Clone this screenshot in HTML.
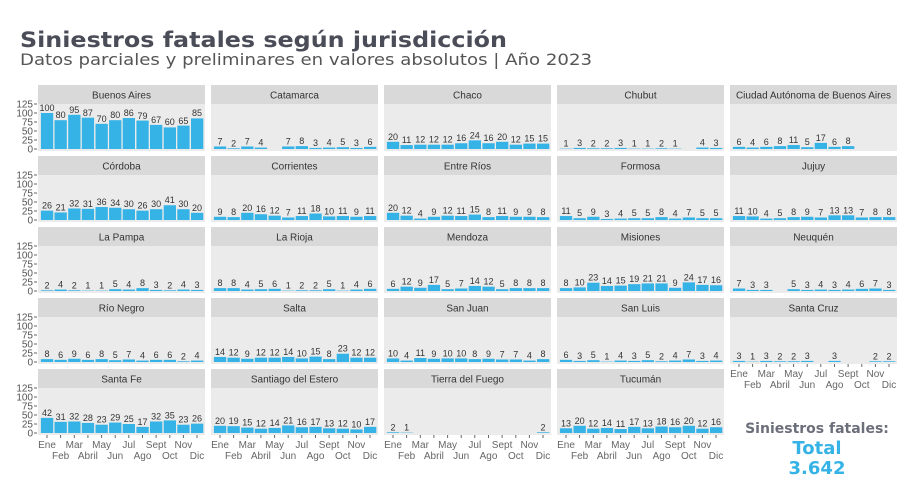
<!DOCTYPE html>
<html><head><meta charset="utf-8"><style>
body{margin:0;background:#fff;width:908px;height:497px;overflow:hidden}
svg{display:block}
.s{fill:#d9d9d9}.p{fill:#ebebeb}
.st{font:10px "Liberation Sans",sans-serif;fill:#333;text-anchor:middle}
.b rect{fill:#35b3e6}
.l text{font:9px "Liberation Sans",sans-serif;fill:#333;text-anchor:middle}
.ax{font:10px "Liberation Sans",sans-serif;fill:#555;text-anchor:end}
.xl text{font:10px "Liberation Sans",sans-serif;fill:#666;text-anchor:middle}
</style></head><body>
<svg width="908" height="497" viewBox="0 0 908 497" xmlns="http://www.w3.org/2000/svg">
<defs>
<g id="yax">
<g stroke="#666" stroke-width="1"><line x1="-4" x2="-1" y1="64" y2="64"/><line x1="-4" x2="-1" y1="55" y2="55"/><line x1="-4" x2="-1" y1="46" y2="46"/><line x1="-4" x2="-1" y1="37" y2="37"/><line x1="-4" x2="-1" y1="28" y2="28"/><line x1="-4" x2="-1" y1="19" y2="19"/></g>
<text class="ax" x="-5" y="67.5">0</text><text class="ax" x="-5" y="58.5">25</text><text class="ax" x="-5" y="49.5">50</text><text class="ax" x="-5" y="40.5">75</text><text class="ax" x="-5" y="31.5">100</text><text class="ax" x="-5" y="22.5">125</text>
</g>
<g id="xtk" stroke="#666"><line x1="9" x2="9" y1="66" y2="69"/><line x1="22.6" x2="22.6" y1="66" y2="69"/><line x1="36.3" x2="36.3" y1="66" y2="69"/><line x1="49.9" x2="49.9" y1="66" y2="69"/><line x1="63.6" x2="63.6" y1="66" y2="69"/><line x1="77.2" x2="77.2" y1="66" y2="69"/><line x1="90.8" x2="90.8" y1="66" y2="69"/><line x1="104.5" x2="104.5" y1="66" y2="69"/><line x1="118.1" x2="118.1" y1="66" y2="69"/><line x1="131.8" x2="131.8" y1="66" y2="69"/><line x1="145.4" x2="145.4" y1="66" y2="69"/><line x1="159" x2="159" y1="66" y2="69"/></g>
</defs>
<text x="20" y="47" font-family="DejaVu Sans, sans-serif" font-weight="bold" font-size="21" fill="#4a4d57" textLength="487" lengthAdjust="spacingAndGlyphs">Siniestros fatales según jurisdicción</text>
<text x="20" y="65" font-family="DejaVu Sans, sans-serif" font-size="16" fill="#555" textLength="572" lengthAdjust="spacingAndGlyphs">Datos parciales y preliminares en valores absolutos | Año 2023</text>

<!-- Row 1 -->
<g transform="translate(38,85)"><use href="#yax"/><rect class="s" width="167" height="19"/><rect class="p" y="19" width="167" height="47"/><text class="st" x="83.5" y="13.5">Buenos Aires</text>
<g class="b" transform="translate(0,64) scale(1,-0.36)"><rect x="2.9" width="12.3" height="100"/><rect x="16.5" width="12.3" height="80"/><rect x="30.2" width="12.3" height="95"/><rect x="43.8" width="12.3" height="87"/><rect x="57.5" width="12.3" height="70"/><rect x="71.1" width="12.3" height="80"/><rect x="84.7" width="12.3" height="86"/><rect x="98.4" width="12.3" height="79"/><rect x="112" width="12.3" height="67"/><rect x="125.7" width="12.3" height="60"/><rect x="139.3" width="12.3" height="65"/><rect x="153" width="12.3" height="85"/></g>
<g class="l"><text x="9" y="26">100</text><text x="22.6" y="33">80</text><text x="36.3" y="28">95</text><text x="49.9" y="31">87</text><text x="63.6" y="37">70</text><text x="77.2" y="33">80</text><text x="90.8" y="31">86</text><text x="104.5" y="34">79</text><text x="118.1" y="38">67</text><text x="131.8" y="40">60</text><text x="145.4" y="39">65</text><text x="159" y="31">85</text></g></g>

<g transform="translate(211,85)"><rect class="s" width="167" height="19"/><rect class="p" y="19" width="167" height="47"/><text class="st" x="83.5" y="13.5">Catamarca</text>
<g class="b" transform="translate(0,64) scale(1,-0.36)"><rect x="2.9" width="12.3" height="7"/><rect x="16.5" width="12.3" height="2"/><rect x="30.2" width="12.3" height="7"/><rect x="43.8" width="12.3" height="4"/><rect x="71.1" width="12.3" height="7"/><rect x="84.7" width="12.3" height="8"/><rect x="98.4" width="12.3" height="3"/><rect x="112" width="12.3" height="4"/><rect x="125.7" width="12.3" height="5"/><rect x="139.3" width="12.3" height="3"/><rect x="153" width="12.3" height="6"/></g>
<g class="l"><text x="9" y="59.5">7</text><text x="22.6" y="61.3">2</text><text x="36.3" y="59.5">7</text><text x="49.9" y="60.6">4</text><text x="77.2" y="59.5">7</text><text x="90.8" y="59.1">8</text><text x="104.5" y="60.9">3</text><text x="118.1" y="60.6">4</text><text x="131.8" y="60.2">5</text><text x="145.4" y="60.9">3</text><text x="159" y="59.8">6</text></g></g>

<g transform="translate(384,85)"><rect class="s" width="167" height="19"/><rect class="p" y="19" width="167" height="47"/><text class="st" x="83.5" y="13.5">Chaco</text>
<g class="b" transform="translate(0,64) scale(1,-0.36)"><rect x="2.9" width="12.3" height="20"/><rect x="16.5" width="12.3" height="11"/><rect x="30.2" width="12.3" height="12"/><rect x="43.8" width="12.3" height="12"/><rect x="57.5" width="12.3" height="12"/><rect x="71.1" width="12.3" height="16"/><rect x="84.7" width="12.3" height="24"/><rect x="98.4" width="12.3" height="16"/><rect x="112" width="12.3" height="20"/><rect x="125.7" width="12.3" height="12"/><rect x="139.3" width="12.3" height="15"/><rect x="153" width="12.3" height="15"/></g>
<g class="l"><text x="9" y="54.8">20</text><text x="22.6" y="58">11</text><text x="36.3" y="57.7">12</text><text x="49.9" y="57.7">12</text><text x="63.6" y="57.7">12</text><text x="77.2" y="56.2">16</text><text x="90.8" y="53.4">24</text><text x="104.5" y="56.2">16</text><text x="118.1" y="54.8">20</text><text x="131.8" y="57.7">12</text><text x="145.4" y="56.6">15</text><text x="159" y="56.6">15</text></g></g>

<g transform="translate(557,85)"><rect class="s" width="167" height="19"/><rect class="p" y="19" width="167" height="47"/><text class="st" x="83.5" y="13.5">Chubut</text>
<g class="b" transform="translate(0,64) scale(1,-0.36)"><rect x="2.9" width="12.3" height="1"/><rect x="16.5" width="12.3" height="3"/><rect x="30.2" width="12.3" height="2"/><rect x="43.8" width="12.3" height="2"/><rect x="57.5" width="12.3" height="3"/><rect x="71.1" width="12.3" height="1"/><rect x="84.7" width="12.3" height="1"/><rect x="98.4" width="12.3" height="2"/><rect x="112" width="12.3" height="1"/><rect x="139.3" width="12.3" height="4"/><rect x="153" width="12.3" height="3"/></g>
<g class="l"><text x="9" y="61.6">1</text><text x="22.6" y="60.9">3</text><text x="36.3" y="61.3">2</text><text x="49.9" y="61.3">2</text><text x="63.6" y="60.9">3</text><text x="77.2" y="61.6">1</text><text x="90.8" y="61.6">1</text><text x="104.5" y="61.3">2</text><text x="118.1" y="61.6">1</text><text x="145.4" y="60.6">4</text><text x="159" y="60.9">3</text></g></g>

<g transform="translate(730,85)"><rect class="s" width="167" height="19"/><rect class="p" y="19" width="167" height="47"/><text class="st" x="83.5" y="13.5">Ciudad Autónoma de Buenos Aires</text>
<g class="b" transform="translate(0,64) scale(1,-0.36)"><rect x="2.9" width="12.3" height="6"/><rect x="16.5" width="12.3" height="4"/><rect x="30.2" width="12.3" height="6"/><rect x="43.8" width="12.3" height="8"/><rect x="57.5" width="12.3" height="11"/><rect x="71.1" width="12.3" height="5"/><rect x="84.7" width="12.3" height="17"/><rect x="98.4" width="12.3" height="6"/><rect x="112" width="12.3" height="8"/></g>
<g class="l"><text x="9" y="59.8">6</text><text x="22.6" y="60.6">4</text><text x="36.3" y="59.8">6</text><text x="49.9" y="59.1">8</text><text x="63.6" y="58">11</text><text x="77.2" y="60.2">5</text><text x="90.8" y="55.9">17</text><text x="104.5" y="59.8">6</text><text x="118.1" y="59.1">8</text></g></g>

<!-- Row 2 -->
<g transform="translate(38,156)"><use href="#yax"/><rect class="s" width="167" height="19"/><rect class="p" y="19" width="167" height="47"/><text class="st" x="83.5" y="13.5">Córdoba</text>
<g class="b" transform="translate(0,64) scale(1,-0.36)"><rect x="2.9" width="12.3" height="26"/><rect x="16.5" width="12.3" height="21"/><rect x="30.2" width="12.3" height="32"/><rect x="43.8" width="12.3" height="31"/><rect x="57.5" width="12.3" height="36"/><rect x="71.1" width="12.3" height="34"/><rect x="84.7" width="12.3" height="30"/><rect x="98.4" width="12.3" height="26"/><rect x="112" width="12.3" height="30"/><rect x="125.7" width="12.3" height="41"/><rect x="139.3" width="12.3" height="30"/><rect x="153" width="12.3" height="20"/></g>
<g class="l"><text x="9" y="52.6">26</text><text x="22.6" y="54.4">21</text><text x="36.3" y="50.5">32</text><text x="49.9" y="50.8">31</text><text x="63.6" y="49">36</text><text x="77.2" y="49.8">34</text><text x="90.8" y="51.2">30</text><text x="104.5" y="52.6">26</text><text x="118.1" y="51.2">30</text><text x="131.8" y="47.2">41</text><text x="145.4" y="51.2">30</text><text x="159" y="54.8">20</text></g></g>

<g transform="translate(211,156)"><rect class="s" width="167" height="19"/><rect class="p" y="19" width="167" height="47"/><text class="st" x="83.5" y="13.5">Corrientes</text>
<g class="b" transform="translate(0,64) scale(1,-0.36)"><rect x="2.9" width="12.3" height="9"/><rect x="16.5" width="12.3" height="8"/><rect x="30.2" width="12.3" height="20"/><rect x="43.8" width="12.3" height="16"/><rect x="57.5" width="12.3" height="12"/><rect x="71.1" width="12.3" height="7"/><rect x="84.7" width="12.3" height="11"/><rect x="98.4" width="12.3" height="18"/><rect x="112" width="12.3" height="10"/><rect x="125.7" width="12.3" height="11"/><rect x="139.3" width="12.3" height="9"/><rect x="153" width="12.3" height="11"/></g>
<g class="l"><text x="9" y="58.8">9</text><text x="22.6" y="59.1">8</text><text x="36.3" y="54.8">20</text><text x="49.9" y="56.2">16</text><text x="63.6" y="57.7">12</text><text x="77.2" y="59.5">7</text><text x="90.8" y="58">11</text><text x="104.5" y="55.5">18</text><text x="118.1" y="58.4">10</text><text x="131.8" y="58">11</text><text x="145.4" y="58.8">9</text><text x="159" y="58">11</text></g></g>

<g transform="translate(384,156)"><rect class="s" width="167" height="19"/><rect class="p" y="19" width="167" height="47"/><text class="st" x="83.5" y="13.5">Entre Ríos</text>
<g class="b" transform="translate(0,64) scale(1,-0.36)"><rect x="2.9" width="12.3" height="20"/><rect x="16.5" width="12.3" height="12"/><rect x="30.2" width="12.3" height="4"/><rect x="43.8" width="12.3" height="9"/><rect x="57.5" width="12.3" height="12"/><rect x="71.1" width="12.3" height="11"/><rect x="84.7" width="12.3" height="15"/><rect x="98.4" width="12.3" height="8"/><rect x="112" width="12.3" height="11"/><rect x="125.7" width="12.3" height="9"/><rect x="139.3" width="12.3" height="9"/><rect x="153" width="12.3" height="8"/></g>
<g class="l"><text x="9" y="54.8">20</text><text x="22.6" y="57.7">12</text><text x="36.3" y="60.6">4</text><text x="49.9" y="58.8">9</text><text x="63.6" y="57.7">12</text><text x="77.2" y="58">11</text><text x="90.8" y="56.6">15</text><text x="104.5" y="59.1">8</text><text x="118.1" y="58">11</text><text x="131.8" y="58.8">9</text><text x="145.4" y="58.8">9</text><text x="159" y="59.1">8</text></g></g>

<g transform="translate(557,156)"><rect class="s" width="167" height="19"/><rect class="p" y="19" width="167" height="47"/><text class="st" x="83.5" y="13.5">Formosa</text>
<g class="b" transform="translate(0,64) scale(1,-0.36)"><rect x="2.9" width="12.3" height="11"/><rect x="16.5" width="12.3" height="5"/><rect x="30.2" width="12.3" height="9"/><rect x="43.8" width="12.3" height="3"/><rect x="57.5" width="12.3" height="4"/><rect x="71.1" width="12.3" height="5"/><rect x="84.7" width="12.3" height="5"/><rect x="98.4" width="12.3" height="8"/><rect x="112" width="12.3" height="4"/><rect x="125.7" width="12.3" height="7"/><rect x="139.3" width="12.3" height="5"/><rect x="153" width="12.3" height="5"/></g>
<g class="l"><text x="9" y="58">11</text><text x="22.6" y="60.2">5</text><text x="36.3" y="58.8">9</text><text x="49.9" y="60.9">3</text><text x="63.6" y="60.6">4</text><text x="77.2" y="60.2">5</text><text x="90.8" y="60.2">5</text><text x="104.5" y="59.1">8</text><text x="118.1" y="60.6">4</text><text x="131.8" y="59.5">7</text><text x="145.4" y="60.2">5</text><text x="159" y="60.2">5</text></g></g>

<g transform="translate(730,156)"><rect class="s" width="167" height="19"/><rect class="p" y="19" width="167" height="47"/><text class="st" x="83.5" y="13.5">Jujuy</text>
<g class="b" transform="translate(0,64) scale(1,-0.36)"><rect x="2.9" width="12.3" height="11"/><rect x="16.5" width="12.3" height="10"/><rect x="30.2" width="12.3" height="4"/><rect x="43.8" width="12.3" height="5"/><rect x="57.5" width="12.3" height="8"/><rect x="71.1" width="12.3" height="9"/><rect x="84.7" width="12.3" height="7"/><rect x="98.4" width="12.3" height="13"/><rect x="112" width="12.3" height="13"/><rect x="125.7" width="12.3" height="7"/><rect x="139.3" width="12.3" height="8"/><rect x="153" width="12.3" height="8"/></g>
<g class="l"><text x="9" y="58">11</text><text x="22.6" y="58.4">10</text><text x="36.3" y="60.6">4</text><text x="49.9" y="60.2">5</text><text x="63.6" y="59.1">8</text><text x="77.2" y="58.8">9</text><text x="90.8" y="59.5">7</text><text x="104.5" y="57.3">13</text><text x="118.1" y="57.3">13</text><text x="131.8" y="59.5">7</text><text x="145.4" y="59.1">8</text><text x="159" y="59.1">8</text></g></g>

<!-- Row 3 -->
<g transform="translate(38,227)"><use href="#yax"/><rect class="s" width="167" height="19"/><rect class="p" y="19" width="167" height="47"/><text class="st" x="83.5" y="13.5">La Pampa</text>
<g class="b" transform="translate(0,64) scale(1,-0.36)"><rect x="2.9" width="12.3" height="2"/><rect x="16.5" width="12.3" height="4"/><rect x="30.2" width="12.3" height="2"/><rect x="43.8" width="12.3" height="1"/><rect x="57.5" width="12.3" height="1"/><rect x="71.1" width="12.3" height="5"/><rect x="84.7" width="12.3" height="4"/><rect x="98.4" width="12.3" height="8"/><rect x="112" width="12.3" height="3"/><rect x="125.7" width="12.3" height="2"/><rect x="139.3" width="12.3" height="4"/><rect x="153" width="12.3" height="3"/></g>
<g class="l"><text x="9" y="61.3">2</text><text x="22.6" y="60.6">4</text><text x="36.3" y="61.3">2</text><text x="49.9" y="61.6">1</text><text x="63.6" y="61.6">1</text><text x="77.2" y="60.2">5</text><text x="90.8" y="60.6">4</text><text x="104.5" y="59.1">8</text><text x="118.1" y="60.9">3</text><text x="131.8" y="61.3">2</text><text x="145.4" y="60.6">4</text><text x="159" y="60.9">3</text></g></g>

<g transform="translate(211,227)"><rect class="s" width="167" height="19"/><rect class="p" y="19" width="167" height="47"/><text class="st" x="83.5" y="13.5">La Rioja</text>
<g class="b" transform="translate(0,64) scale(1,-0.36)"><rect x="2.9" width="12.3" height="8"/><rect x="16.5" width="12.3" height="8"/><rect x="30.2" width="12.3" height="4"/><rect x="43.8" width="12.3" height="5"/><rect x="57.5" width="12.3" height="6"/><rect x="71.1" width="12.3" height="1"/><rect x="84.7" width="12.3" height="2"/><rect x="98.4" width="12.3" height="2"/><rect x="112" width="12.3" height="5"/><rect x="125.7" width="12.3" height="1"/><rect x="139.3" width="12.3" height="4"/><rect x="153" width="12.3" height="6"/></g>
<g class="l"><text x="9" y="59.1">8</text><text x="22.6" y="59.1">8</text><text x="36.3" y="60.6">4</text><text x="49.9" y="60.2">5</text><text x="63.6" y="59.8">6</text><text x="77.2" y="61.6">1</text><text x="90.8" y="61.3">2</text><text x="104.5" y="61.3">2</text><text x="118.1" y="60.2">5</text><text x="131.8" y="61.6">1</text><text x="145.4" y="60.6">4</text><text x="159" y="59.8">6</text></g></g>

<g transform="translate(384,227)"><rect class="s" width="167" height="19"/><rect class="p" y="19" width="167" height="47"/><text class="st" x="83.5" y="13.5">Mendoza</text>
<g class="b" transform="translate(0,64) scale(1,-0.36)"><rect x="2.9" width="12.3" height="6"/><rect x="16.5" width="12.3" height="12"/><rect x="30.2" width="12.3" height="9"/><rect x="43.8" width="12.3" height="17"/><rect x="57.5" width="12.3" height="5"/><rect x="71.1" width="12.3" height="7"/><rect x="84.7" width="12.3" height="14"/><rect x="98.4" width="12.3" height="12"/><rect x="112" width="12.3" height="5"/><rect x="125.7" width="12.3" height="8"/><rect x="139.3" width="12.3" height="8"/><rect x="153" width="12.3" height="8"/></g>
<g class="l"><text x="9" y="59.8">6</text><text x="22.6" y="57.7">12</text><text x="36.3" y="58.8">9</text><text x="49.9" y="55.9">17</text><text x="63.6" y="60.2">5</text><text x="77.2" y="59.5">7</text><text x="90.8" y="57">14</text><text x="104.5" y="57.7">12</text><text x="118.1" y="60.2">5</text><text x="131.8" y="59.1">8</text><text x="145.4" y="59.1">8</text><text x="159" y="59.1">8</text></g></g>

<g transform="translate(557,227)"><rect class="s" width="167" height="19"/><rect class="p" y="19" width="167" height="47"/><text class="st" x="83.5" y="13.5">Misiones</text>
<g class="b" transform="translate(0,64) scale(1,-0.36)"><rect x="2.9" width="12.3" height="8"/><rect x="16.5" width="12.3" height="10"/><rect x="30.2" width="12.3" height="23"/><rect x="43.8" width="12.3" height="14"/><rect x="57.5" width="12.3" height="15"/><rect x="71.1" width="12.3" height="19"/><rect x="84.7" width="12.3" height="21"/><rect x="98.4" width="12.3" height="21"/><rect x="112" width="12.3" height="9"/><rect x="125.7" width="12.3" height="24"/><rect x="139.3" width="12.3" height="17"/><rect x="153" width="12.3" height="16"/></g>
<g class="l"><text x="9" y="59.1">8</text><text x="22.6" y="58.4">10</text><text x="36.3" y="53.7">23</text><text x="49.9" y="57">14</text><text x="63.6" y="56.6">15</text><text x="77.2" y="55.2">19</text><text x="90.8" y="54.4">21</text><text x="104.5" y="54.4">21</text><text x="118.1" y="58.8">9</text><text x="131.8" y="53.4">24</text><text x="145.4" y="55.9">17</text><text x="159" y="56.2">16</text></g></g>

<g transform="translate(730,227)"><rect class="s" width="167" height="19"/><rect class="p" y="19" width="167" height="47"/><text class="st" x="83.5" y="13.5">Neuquén</text>
<g class="b" transform="translate(0,64) scale(1,-0.36)"><rect x="2.9" width="12.3" height="7"/><rect x="16.5" width="12.3" height="3"/><rect x="30.2" width="12.3" height="3"/><rect x="57.5" width="12.3" height="5"/><rect x="71.1" width="12.3" height="3"/><rect x="84.7" width="12.3" height="4"/><rect x="98.4" width="12.3" height="3"/><rect x="112" width="12.3" height="4"/><rect x="125.7" width="12.3" height="6"/><rect x="139.3" width="12.3" height="7"/><rect x="153" width="12.3" height="3"/></g>
<g class="l"><text x="9" y="59.5">7</text><text x="22.6" y="60.9">3</text><text x="36.3" y="60.9">3</text><text x="63.6" y="60.2">5</text><text x="77.2" y="60.9">3</text><text x="90.8" y="60.6">4</text><text x="104.5" y="60.9">3</text><text x="118.1" y="60.6">4</text><text x="131.8" y="59.8">6</text><text x="145.4" y="59.5">7</text><text x="159" y="60.9">3</text></g></g>

<!-- Row 4 -->
<g transform="translate(38,298)"><use href="#yax"/><rect class="s" width="167" height="19"/><rect class="p" y="19" width="167" height="47"/><text class="st" x="83.5" y="13.5">Río Negro</text>
<g class="b" transform="translate(0,64) scale(1,-0.36)"><rect x="2.9" width="12.3" height="8"/><rect x="16.5" width="12.3" height="6"/><rect x="30.2" width="12.3" height="9"/><rect x="43.8" width="12.3" height="6"/><rect x="57.5" width="12.3" height="8"/><rect x="71.1" width="12.3" height="5"/><rect x="84.7" width="12.3" height="7"/><rect x="98.4" width="12.3" height="4"/><rect x="112" width="12.3" height="6"/><rect x="125.7" width="12.3" height="6"/><rect x="139.3" width="12.3" height="2"/><rect x="153" width="12.3" height="4"/></g>
<g class="l"><text x="9" y="59.1">8</text><text x="22.6" y="59.8">6</text><text x="36.3" y="58.8">9</text><text x="49.9" y="59.8">6</text><text x="63.6" y="59.1">8</text><text x="77.2" y="60.2">5</text><text x="90.8" y="59.5">7</text><text x="104.5" y="60.6">4</text><text x="118.1" y="59.8">6</text><text x="131.8" y="59.8">6</text><text x="145.4" y="61.3">2</text><text x="159" y="60.6">4</text></g></g>

<g transform="translate(211,298)"><rect class="s" width="167" height="19"/><rect class="p" y="19" width="167" height="47"/><text class="st" x="83.5" y="13.5">Salta</text>
<g class="b" transform="translate(0,64) scale(1,-0.36)"><rect x="2.9" width="12.3" height="14"/><rect x="16.5" width="12.3" height="12"/><rect x="30.2" width="12.3" height="9"/><rect x="43.8" width="12.3" height="12"/><rect x="57.5" width="12.3" height="12"/><rect x="71.1" width="12.3" height="14"/><rect x="84.7" width="12.3" height="10"/><rect x="98.4" width="12.3" height="15"/><rect x="112" width="12.3" height="8"/><rect x="125.7" width="12.3" height="23"/><rect x="139.3" width="12.3" height="12"/><rect x="153" width="12.3" height="12"/></g>
<g class="l"><text x="9" y="57">14</text><text x="22.6" y="57.7">12</text><text x="36.3" y="58.8">9</text><text x="49.9" y="57.7">12</text><text x="63.6" y="57.7">12</text><text x="77.2" y="57">14</text><text x="90.8" y="58.4">10</text><text x="104.5" y="56.6">15</text><text x="118.1" y="59.1">8</text><text x="131.8" y="53.7">23</text><text x="145.4" y="57.7">12</text><text x="159" y="57.7">12</text></g></g>

<g transform="translate(384,298)"><rect class="s" width="167" height="19"/><rect class="p" y="19" width="167" height="47"/><text class="st" x="83.5" y="13.5">San Juan</text>
<g class="b" transform="translate(0,64) scale(1,-0.36)"><rect x="2.9" width="12.3" height="10"/><rect x="16.5" width="12.3" height="4"/><rect x="30.2" width="12.3" height="11"/><rect x="43.8" width="12.3" height="9"/><rect x="57.5" width="12.3" height="10"/><rect x="71.1" width="12.3" height="10"/><rect x="84.7" width="12.3" height="8"/><rect x="98.4" width="12.3" height="9"/><rect x="112" width="12.3" height="7"/><rect x="125.7" width="12.3" height="7"/><rect x="139.3" width="12.3" height="4"/><rect x="153" width="12.3" height="8"/></g>
<g class="l"><text x="9" y="58.4">10</text><text x="22.6" y="60.6">4</text><text x="36.3" y="58">11</text><text x="49.9" y="58.8">9</text><text x="63.6" y="58.4">10</text><text x="77.2" y="58.4">10</text><text x="90.8" y="59.1">8</text><text x="104.5" y="58.8">9</text><text x="118.1" y="59.5">7</text><text x="131.8" y="59.5">7</text><text x="145.4" y="60.6">4</text><text x="159" y="59.1">8</text></g></g>

<g transform="translate(557,298)"><rect class="s" width="167" height="19"/><rect class="p" y="19" width="167" height="47"/><text class="st" x="83.5" y="13.5">San Luis</text>
<g class="b" transform="translate(0,64) scale(1,-0.36)"><rect x="2.9" width="12.3" height="6"/><rect x="16.5" width="12.3" height="3"/><rect x="30.2" width="12.3" height="5"/><rect x="43.8" width="12.3" height="1"/><rect x="57.5" width="12.3" height="4"/><rect x="71.1" width="12.3" height="3"/><rect x="84.7" width="12.3" height="5"/><rect x="98.4" width="12.3" height="2"/><rect x="112" width="12.3" height="4"/><rect x="125.7" width="12.3" height="7"/><rect x="139.3" width="12.3" height="3"/><rect x="153" width="12.3" height="4"/></g>
<g class="l"><text x="9" y="59.8">6</text><text x="22.6" y="60.9">3</text><text x="36.3" y="60.2">5</text><text x="49.9" y="61.6">1</text><text x="63.6" y="60.6">4</text><text x="77.2" y="60.9">3</text><text x="90.8" y="60.2">5</text><text x="104.5" y="61.3">2</text><text x="118.1" y="60.6">4</text><text x="131.8" y="59.5">7</text><text x="145.4" y="60.9">3</text><text x="159" y="60.6">4</text></g></g>

<g transform="translate(730,298)"><rect class="s" width="167" height="19"/><rect class="p" y="19" width="167" height="47"/><text class="st" x="83.5" y="13.5">Santa Cruz</text>
<g class="b" transform="translate(0,64) scale(1,-0.36)"><rect x="2.9" width="12.3" height="3"/><rect x="16.5" width="12.3" height="1"/><rect x="30.2" width="12.3" height="3"/><rect x="43.8" width="12.3" height="2"/><rect x="57.5" width="12.3" height="2"/><rect x="71.1" width="12.3" height="3"/><rect x="98.4" width="12.3" height="3"/><rect x="139.3" width="12.3" height="2"/><rect x="153" width="12.3" height="2"/></g>
<g class="l"><text x="9" y="60.9">3</text><text x="22.6" y="61.6">1</text><text x="36.3" y="60.9">3</text><text x="49.9" y="61.3">2</text><text x="63.6" y="61.3">2</text><text x="77.2" y="60.9">3</text><text x="104.5" y="60.9">3</text><text x="145.4" y="61.3">2</text><text x="159" y="61.3">2</text></g>
<use href="#xtk"/>
<g class="xl"><text x="9" y="79">Ene</text><text x="36.3" y="79">Mar</text><text x="63.6" y="79">May</text><text x="90.8" y="79">Jul</text><text x="118.1" y="79">Sept</text><text x="145.4" y="79">Nov</text><text x="22.6" y="90">Feb</text><text x="49.9" y="90">Abril</text><text x="77.2" y="90">Jun</text><text x="104.5" y="90">Ago</text><text x="131.8" y="90">Oct</text><text x="159" y="90">Dic</text></g></g>

<!-- Row 5 -->
<g transform="translate(38,369)"><use href="#yax"/><rect class="s" width="167" height="19"/><rect class="p" y="19" width="167" height="47"/><text class="st" x="83.5" y="13.5">Santa Fe</text>
<g class="b" transform="translate(0,64) scale(1,-0.36)"><rect x="2.9" width="12.3" height="42"/><rect x="16.5" width="12.3" height="31"/><rect x="30.2" width="12.3" height="32"/><rect x="43.8" width="12.3" height="28"/><rect x="57.5" width="12.3" height="23"/><rect x="71.1" width="12.3" height="29"/><rect x="84.7" width="12.3" height="25"/><rect x="98.4" width="12.3" height="17"/><rect x="112" width="12.3" height="32"/><rect x="125.7" width="12.3" height="35"/><rect x="139.3" width="12.3" height="23"/><rect x="153" width="12.3" height="26"/></g>
<g class="l"><text x="9" y="46.9">42</text><text x="22.6" y="50.8">31</text><text x="36.3" y="50.5">32</text><text x="49.9" y="51.9">28</text><text x="63.6" y="53.7">23</text><text x="77.2" y="51.6">29</text><text x="90.8" y="53">25</text><text x="104.5" y="55.9">17</text><text x="118.1" y="50.5">32</text><text x="131.8" y="49.4">35</text><text x="145.4" y="53.7">23</text><text x="159" y="52.6">26</text></g>
<use href="#xtk"/>
<g class="xl"><text x="9" y="79">Ene</text><text x="36.3" y="79">Mar</text><text x="63.6" y="79">May</text><text x="90.8" y="79">Jul</text><text x="118.1" y="79">Sept</text><text x="145.4" y="79">Nov</text><text x="22.6" y="90">Feb</text><text x="49.9" y="90">Abril</text><text x="77.2" y="90">Jun</text><text x="104.5" y="90">Ago</text><text x="131.8" y="90">Oct</text><text x="159" y="90">Dic</text></g></g>

<g transform="translate(211,369)"><rect class="s" width="167" height="19"/><rect class="p" y="19" width="167" height="47"/><text class="st" x="83.5" y="13.5">Santiago del Estero</text>
<g class="b" transform="translate(0,64) scale(1,-0.36)"><rect x="2.9" width="12.3" height="20"/><rect x="16.5" width="12.3" height="19"/><rect x="30.2" width="12.3" height="15"/><rect x="43.8" width="12.3" height="12"/><rect x="57.5" width="12.3" height="14"/><rect x="71.1" width="12.3" height="21"/><rect x="84.7" width="12.3" height="16"/><rect x="98.4" width="12.3" height="17"/><rect x="112" width="12.3" height="13"/><rect x="125.7" width="12.3" height="12"/><rect x="139.3" width="12.3" height="10"/><rect x="153" width="12.3" height="17"/></g>
<g class="l"><text x="9" y="54.8">20</text><text x="22.6" y="55.2">19</text><text x="36.3" y="56.6">15</text><text x="49.9" y="57.7">12</text><text x="63.6" y="57">14</text><text x="77.2" y="54.4">21</text><text x="90.8" y="56.2">16</text><text x="104.5" y="55.9">17</text><text x="118.1" y="57.3">13</text><text x="131.8" y="57.7">12</text><text x="145.4" y="58.4">10</text><text x="159" y="55.9">17</text></g>
<use href="#xtk"/>
<g class="xl"><text x="9" y="79">Ene</text><text x="36.3" y="79">Mar</text><text x="63.6" y="79">May</text><text x="90.8" y="79">Jul</text><text x="118.1" y="79">Sept</text><text x="145.4" y="79">Nov</text><text x="22.6" y="90">Feb</text><text x="49.9" y="90">Abril</text><text x="77.2" y="90">Jun</text><text x="104.5" y="90">Ago</text><text x="131.8" y="90">Oct</text><text x="159" y="90">Dic</text></g></g>

<g transform="translate(384,369)"><rect class="s" width="167" height="19"/><rect class="p" y="19" width="167" height="47"/><text class="st" x="83.5" y="13.5">Tierra del Fuego</text>
<g class="b" transform="translate(0,64) scale(1,-0.36)"><rect x="2.9" width="12.3" height="2"/><rect x="16.5" width="12.3" height="1"/><rect x="153" width="12.3" height="2"/></g>
<g class="l"><text x="9" y="61.3">2</text><text x="22.6" y="61.6">1</text><text x="159" y="61.3">2</text></g>
<use href="#xtk"/>
<g class="xl"><text x="9" y="79">Ene</text><text x="36.3" y="79">Mar</text><text x="63.6" y="79">May</text><text x="90.8" y="79">Jul</text><text x="118.1" y="79">Sept</text><text x="145.4" y="79">Nov</text><text x="22.6" y="90">Feb</text><text x="49.9" y="90">Abril</text><text x="77.2" y="90">Jun</text><text x="104.5" y="90">Ago</text><text x="131.8" y="90">Oct</text><text x="159" y="90">Dic</text></g></g>

<g transform="translate(557,369)"><rect class="s" width="167" height="19"/><rect class="p" y="19" width="167" height="47"/><text class="st" x="83.5" y="13.5">Tucumán</text>
<g class="b" transform="translate(0,64) scale(1,-0.36)"><rect x="2.9" width="12.3" height="13"/><rect x="16.5" width="12.3" height="20"/><rect x="30.2" width="12.3" height="12"/><rect x="43.8" width="12.3" height="14"/><rect x="57.5" width="12.3" height="11"/><rect x="71.1" width="12.3" height="17"/><rect x="84.7" width="12.3" height="13"/><rect x="98.4" width="12.3" height="18"/><rect x="112" width="12.3" height="16"/><rect x="125.7" width="12.3" height="20"/><rect x="139.3" width="12.3" height="12"/><rect x="153" width="12.3" height="16"/></g>
<g class="l"><text x="9" y="57.3">13</text><text x="22.6" y="54.8">20</text><text x="36.3" y="57.7">12</text><text x="49.9" y="57">14</text><text x="63.6" y="58">11</text><text x="77.2" y="55.9">17</text><text x="90.8" y="57.3">13</text><text x="104.5" y="55.5">18</text><text x="118.1" y="56.2">16</text><text x="131.8" y="54.8">20</text><text x="145.4" y="57.7">12</text><text x="159" y="56.2">16</text></g>
<use href="#xtk"/>
<g class="xl"><text x="9" y="79">Ene</text><text x="36.3" y="79">Mar</text><text x="63.6" y="79">May</text><text x="90.8" y="79">Jul</text><text x="118.1" y="79">Sept</text><text x="145.4" y="79">Nov</text><text x="22.6" y="90">Feb</text><text x="49.9" y="90">Abril</text><text x="77.2" y="90">Jun</text><text x="104.5" y="90">Ago</text><text x="131.8" y="90">Oct</text><text x="159" y="90">Dic</text></g></g>

<text x="817" y="433" text-anchor="middle" font-family="DejaVu Sans, sans-serif" font-weight="bold" font-size="14" fill="#6b6f7a">Siniestros fatales:</text>
<text x="817" y="454" text-anchor="middle" font-family="DejaVu Sans, sans-serif" font-weight="bold" font-size="18" fill="#35b3e6">Total</text>
<text x="817" y="474" text-anchor="middle" font-family="DejaVu Sans, sans-serif" font-weight="bold" font-size="18" fill="#35b3e6">3.642</text>
</svg>
</body></html>
